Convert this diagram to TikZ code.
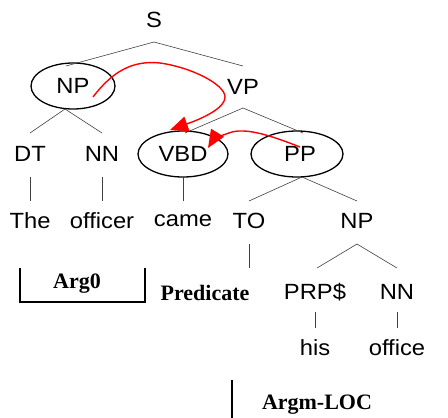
\documentclass[tikz,border=0pt]{standalone}
\usepackage{fontspec}
\setmainfont{Liberation Sans}
\newfontfamily\timesbf{Liberation Serif Bold}
\newfontfamily\arialx[FakeStretch=1.08]{Liberation Sans}
\usetikzlibrary{arrows.meta}
\begin{document}
\begin{tikzpicture}[x=1pt,y=-1pt,
  lab/.style={inner sep=0pt,font=\arialx\fontsize{22}{25}\selectfont},
  role/.style={inner sep=0pt,font=\timesbf\fontsize{22}{25}\selectfont},
  branch/.style={draw=black!75,line width=0.6pt},
  oval/.style={draw=black,line width=1.3pt},
  brk/.style={draw=black,line width=1.3pt},
  redarrow/.style={draw=red,line width=1.4pt,-{Triangle[length=18pt,width=15pt]}}]
\useasboundingbox (0,0) rectangle (448,418);
% tree labels
\node[lab] (S) at (154,20) {S};
\node[lab] (NP1) at (73,86) {NP};
\node[lab] (VP) at (243,87) {VP};
\node[lab] (DT) at (30,154) {DT};
\node[lab] (NN1) at (102,154) {NN};
\node[lab] (VBD) at (183,154) {VBD};
\node[lab] (PP) at (300,154) {PP};
\node[lab] (The) at (30,221) {The};
\node[lab] (officer) at (102,221) {officer};
\node[lab] (came) at (183,221) {came};
\node[lab] (TO) at (249,221) {TO};
\node[lab] (NP2) at (357,221) {NP};
\node[lab] (PRP) at (315,292) {PRP\$};
\node[lab] (NN2) at (397,292) {NN};
\node[lab] (his) at (315,348) {his};
\node[lab] (office) at (397,348) {office};
% ellipses
\draw[oval] (NP1.center) ellipse [x radius=42, y radius=23];
\draw[oval] (VBD.center) ellipse [x radius=45, y radius=23];
\draw[oval] (297,154) ellipse [x radius=46, y radius=23];
% branch points
\coordinate (sA) at (154,42);
\coordinate (sL) at (66,66);
\coordinate (sR) at (243,66);
\coordinate (npA) at (65,109);
\coordinate (npL) at (30,133);
\coordinate (npR) at (102,133);
\coordinate (vpA) at (243,108);
\coordinate (vpL) at (185,133);
\coordinate (vpR) at (303,133);
\coordinate (ppA) at (302,177);
\coordinate (ppL) at (249,201);
\coordinate (ppR) at (357,201);
\coordinate (np2A) at (357,244);
\coordinate (np2L) at (317,268);
\coordinate (np2R) at (397,268);
\draw[branch] (sL) -- (sA) -- (sR);
\draw[branch] (npL) -- (npA) -- (npR);
\draw[branch] (vpL) -- (vpA) -- (vpR);
\draw[branch] (ppL) -- (ppA) -- (ppR);
\draw[branch] (np2L) -- (np2A) -- (np2R);
\draw[branch] (30,177) -- (30,201);
\draw[branch] (102,177) -- (102,201);
\draw[branch] (183,177) -- (183,201);
\draw[branch] (249,244) -- (249,268);
\draw[branch] (315,312) -- (315,328);
\draw[branch] (397,312) -- (397,328);
% roles
\node[role] (arg0) at (77,284) {Arg0};
\node[role] (pred) at (205,293) {Predicate};
\node[role] (argm) at (317,405) {Argm-LOC};
\draw[brk] (20,268) -- (20,302) -- (145,302) -- (145,268);
\draw[brk] (232,380) -- (232,418);
% red arrows
\coordinate (r1s) at (93,97);
\coordinate (r1e) at (170,130);
\coordinate (r2s) at (300,147);
\coordinate (r2e) at (208,148);
\draw[redarrow] (r1s) .. controls (112,72) and (132,60) .. (160,63)
  .. controls (190,67) and (225,84) .. (225,97)
  .. controls (225,110) and (195,121) .. (r1e);
\draw[redarrow] (r2s) .. controls (272,136) and (248,128) .. (232,132)
  .. controls (222,135) and (213,140) .. (r2e);
\end{tikzpicture}
\end{document}
